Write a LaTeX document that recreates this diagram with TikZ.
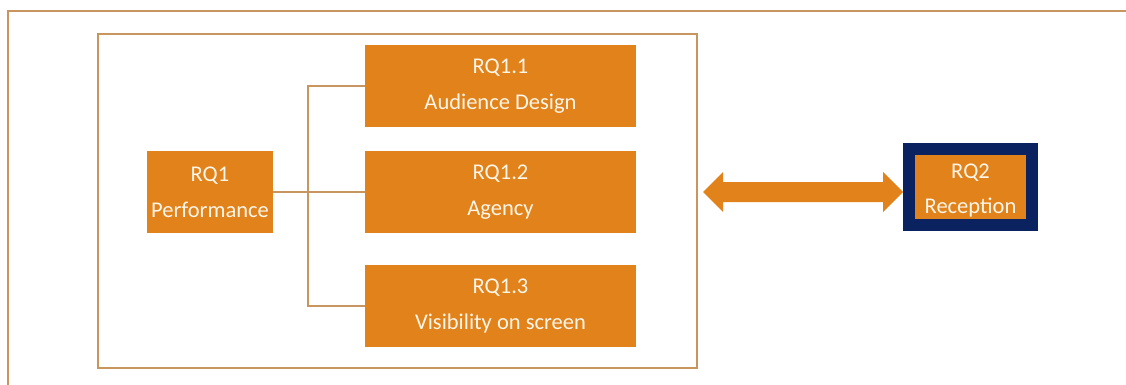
\documentclass[tikz,border=0pt]{standalone}
\usepackage{fontspec}
\usetikzlibrary{calc}
\setmainfont{Carlito}
\definecolor{rqorange}{HTML}{E1821A}
\definecolor{rqframe}{HTML}{C9955E}
\definecolor{rqnavy}{HTML}{0B2260}
\definecolor{rqtext}{HTML}{FFF6EA}
\begin{document}
\begin{tikzpicture}[x=1pt,y=-1pt,
  rqbox/.style={fill=rqorange, text=rqtext, inner sep=0pt, align=center,
    font=\fontsize{22.5}{36}\selectfont},
  link/.style={draw=rqframe, line width=1.4pt},
  frame/.style={draw=rqframe, line width=1.6pt}]
\useasboundingbox (0,0) rectangle (1126,385);
\fill[white] (0,0) rectangle (1126,385);
% outer frame
\draw[frame] (8,395) -- (8,11) -- (1136,11);
% inner frame
\node[frame, minimum width=599pt, minimum height=334pt, inner sep=0pt] (inner) at (397.5,201) {};
% boxes
\node[rqbox, minimum width=126pt, minimum height=82pt] (r1) at (210,192) {RQ1\\Performance};
\node[rqbox, minimum width=271pt, minimum height=82pt] (r11) at (500.5,86) {RQ1.1\\Audience Design};
\node[rqbox, minimum width=271pt, minimum height=82pt] (r12) at (500.5,192) {RQ1.2\\Agency};
\node[rqbox, minimum width=271pt, minimum height=82pt] (r13) at (500.5,306) {RQ1.3\\Visibility on screen};
% RQ2
\node[draw=rqnavy, line width=12pt, fill=rqorange, inner sep=0pt,
  minimum width=123pt, minimum height=76pt] (r2) at (970.5,187) {};
\node[text=rqtext, align=center, inner sep=0pt, font=\fontsize{22.5}{35}\selectfont]
  (r2t) at ($(r2.center)+(0,3.5)$) {RQ2\\Reception};
% connectors
\coordinate (j) at (308,192);
\draw[link, line width=1.8pt] (r1.east) -- (j);
\draw[link] (j) |- (r11.west);
\draw[link] (j) -- (r12.west);
\draw[link] (j) |- (r13.west);
% double arrow
\fill[rqorange] (703,192) -- (723,172) -- (723,182) -- (883,182) -- (883,172)
  -- (903,192) -- (883,212) -- (883,202) -- (723,202) -- (723,212) -- cycle;
\end{tikzpicture}
\end{document}
